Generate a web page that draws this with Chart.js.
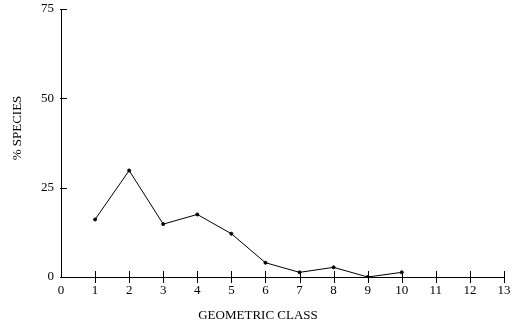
<!DOCTYPE html>
<html>
<head>
<meta charset="utf-8">
<script src="https://cdn.jsdelivr.net/npm/chart.js@4/dist/chart.umd.min.js"></script>
<style>
  html, body { margin: 0; padding: 0; background: #fff; }
  #wrap { width: 513px; height: 325px; position: relative; }
</style>
</head>
<body>
<div id="wrap"><canvas id="c" width="513" height="325"></canvas></div>
<script>
// geometric class vs % species
const classes = [1, 2, 3, 4, 5, 6, 7, 8, 9, 10];
const pctSpecies = [16.1, 29.8, 14.8, 17.5, 12.1, 4.0, 1.3, 2.7, 0, 1.3];
const xTicks = [0, 1, 2, 3, 4, 5, 6, 7, 8, 9, 10, 11, 12, 13];
const yTicks = [0, 25, 50, 75];
const xTitle = 'GEOMETRIC CLASS';
const yTitle = '% SPECIES';

const FONT = 'Liberation Serif, Times New Roman, serif';

// draws y ticks inside the axis and x ticks crossing the axis, plus both titles
const axisDecor = {
  id: 'axisDecor',
  afterDraw(chart) {
    const ctx = chart.ctx;
    const xs = chart.scales.x, ys = chart.scales.y;
    const x0 = xs.getPixelForValue(0), y0 = ys.getPixelForValue(0);
    ctx.save();
    ctx.strokeStyle = '#000';
    ctx.lineWidth = 1;
    ctx.beginPath();
    yTicks.forEach(v => {
      const y = Math.round(ys.getPixelForValue(v)) + 0.5;
      ctx.moveTo(x0 - 1, y); ctx.lineTo(x0 + 6, y);
    });
    xTicks.slice(1).forEach(v => {
      const x = Math.round(xs.getPixelForValue(v)) + 0.5;
      ctx.moveTo(x, y0 - 6); ctx.lineTo(x, y0 + 6);
    });
    ctx.stroke();

    ctx.fillStyle = '#000';
    ctx.font = '13px ' + FONT;
    ctx.textAlign = 'center';
    ctx.textBaseline = 'middle';
    ctx.fillText(xTitle, 258, 316);
    ctx.translate(18, 128);
    ctx.rotate(-Math.PI / 2);
    ctx.fillText(yTitle, 0, 0);
    ctx.restore();
  }
};

new Chart(document.getElementById('c'), {
  type: 'line',
  data: {
    datasets: [{
      data: classes.map((c, i) => ({ x: c, y: pctSpecies[i] })),
      borderColor: '#000',
      backgroundColor: '#000',
      borderWidth: 1,
      pointRadius: 1.5,
      pointHoverRadius: 1.5,
      tension: 0,
      fill: false,
    }]
  },
  options: {
    responsive: false,
    animation: false,
    layout: { padding: { top: 9, right: 9, left: 0, bottom: 0 } },
    plugins: { legend: { display: false }, tooltip: { enabled: false } },
    scales: {
      x: {
        type: 'linear',
        min: 0, max: 13,
        afterBuildTicks: s => { s.ticks = xTicks.map(v => ({ value: v })); },
        afterFit: s => { s.height = 48; s.paddingLeft = 0; s.paddingRight = 0; },
        grid: { display: false, drawTicks: false },
        border: { display: true, color: '#000', width: 1 },
        ticks: { color: '#000', font: { family: FONT, size: 13 }, padding: 6, maxRotation: 0, autoSkip: false },
      },
      y: {
        type: 'linear',
        min: 0, max: 75,
        afterBuildTicks: s => { s.ticks = yTicks.map(v => ({ value: v })); },
        afterFit: s => { s.width = 61; s.paddingTop = 0; s.paddingBottom = 0; },
        grid: { display: false, drawTicks: false },
        border: { display: true, color: '#000', width: 1 },
        ticks: { color: '#000', font: { family: FONT, size: 13 }, padding: 7 },
      }
    }
  },
  plugins: [axisDecor]
});
</script>
</body>
</html>
